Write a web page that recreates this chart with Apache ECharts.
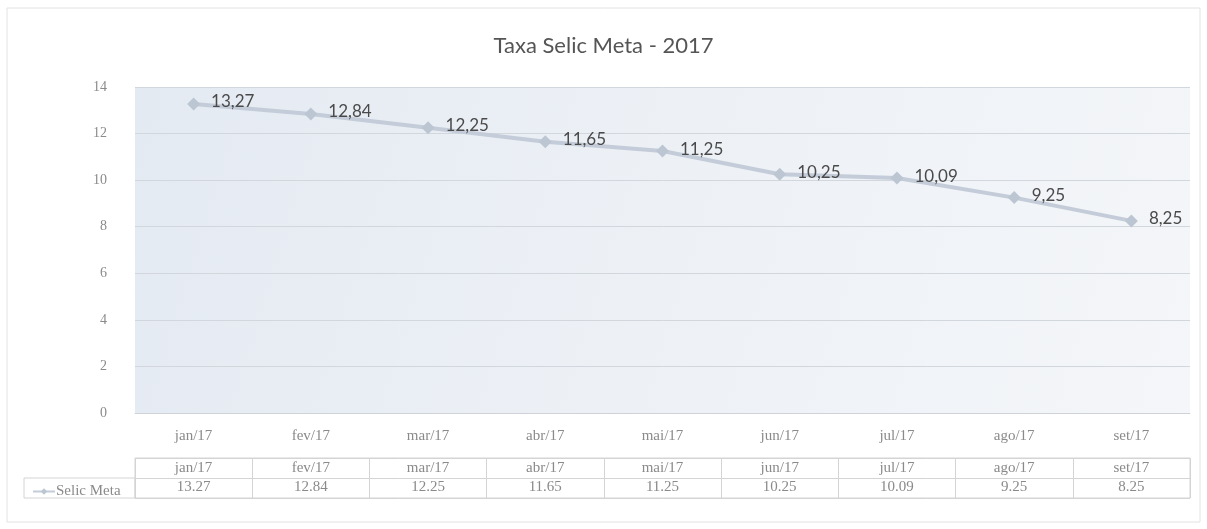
<!DOCTYPE html>
<html>
<head>
<meta charset="UTF-8" />
<title>Taxa Selic Meta - 2017</title>
<script src="https://cdn.jsdelivr.net/npm/echarts@6/dist/echarts.min.js"></script>
<style>
  html, body { margin: 0; padding: 0; background: #fff; }
  #main { width: 1207px; height: 529px; }
</style>
</head>
<body>
<div id="main"></div>
<script>
var months = ['jan/17', 'fev/17', 'mar/17', 'abr/17', 'mai/17', 'jun/17', 'jul/17', 'ago/17', 'set/17'];
var selicMeta = [13.27, 12.84, 12.25, 11.65, 11.25, 10.25, 10.09, 9.25, 8.25];
var yTicks = { min: 0, max: 14, interval: 2 };

var chart = echarts.init(document.getElementById('main'));

var serif = 'Liberation Serif';
var sans = 'Lato';
var gray = '#8a8a8a';
var lineCol = '#c3ccd8';
var borderCol = '#d4d4d4';

// table values use a dot, point labels use a comma (as in the original)
var tableVals = selicMeta.map(function (v) { return v.toFixed(2); });

var option = {
  backgroundColor: '#fff',
  title: {
    text: 'Taxa Selic Meta - 2017',
    left: 'center',
    top: 30,
    textStyle: { fontFamily: sans, fontSize: 22, fontWeight: 'normal', color: '#555' }
  },
  legend: {
    left: 27,
    top: 479,
    itemWidth: 22,
    itemHeight: 8,
    itemGap: 4,
    textStyle: { fontFamily: serif, fontSize: 15, color: gray, padding: [0, 0, 0, -4] },
    data: ['Selic Meta']
  },
  graphic: [
    {
      type: 'rect', z: -1, silent: true,
      shape: { x: 7, y: 8, width: 1193, height: 514 },
      style: { fill: 'none', stroke: '#e2e2e2', lineWidth: 1 }
    },
    {
      type: 'rect', silent: true,
      shape: { x: 24, y: 478, width: 111, height: 20 },
      style: { fill: 'none', stroke: borderCol, lineWidth: 1 }
    }
  ],
  grid: [
    {
      left: 135, right: 17, top: 87, height: 326,
      show: true, borderWidth: 0,
      backgroundColor: new echarts.graphic.LinearGradient(0, 0, 1, 1, [
        { offset: 0, color: '#e4eaf2' },
        { offset: 0.5, color: '#edf1f6' },
        { offset: 1, color: '#f4f6f9' }
      ])
    },
    {
      left: 135, right: 17, top: 458, height: 40,
      show: true, borderColor: borderCol, borderWidth: 1
    }
  ],
  xAxis: [
    {
      gridIndex: 0, type: 'category', data: months,
      axisLine: { show: true, lineStyle: { color: '#cfd3d8' } },
      axisTick: { show: false },
      axisLabel: { margin: 16, fontFamily: serif, fontSize: 15, color: gray }
    },
    {
      gridIndex: 1, type: 'category', data: months, position: 'top',
      axisLine: { show: false },
      axisTick: { show: false },
      splitLine: { show: true, lineStyle: { color: borderCol } },
      axisLabel: { inside: true, margin: 3, fontFamily: serif, fontSize: 15, color: gray }
    },
    {
      gridIndex: 1, type: 'category', data: tableVals, position: 'bottom',
      axisLine: { show: false },
      axisTick: { show: false },
      axisLabel: { inside: true, margin: 3, fontFamily: serif, fontSize: 15, color: gray }
    }
  ],
  yAxis: [
    {
      gridIndex: 0, type: 'value',
      min: yTicks.min, max: yTicks.max, interval: yTicks.interval,
      axisLine: { show: false },
      axisTick: { show: false },
      splitLine: { lineStyle: { color: '#d2d7de' } },
      axisLabel: { margin: 28, fontFamily: serif, fontSize: 14, color: gray }
    },
    {
      gridIndex: 1, type: 'value', min: 0, max: 2, interval: 1,
      axisLine: { show: false },
      axisTick: { show: false },
      axisLabel: { show: false },
      splitLine: { show: true, lineStyle: { color: borderCol } }
    }
  ],
  series: [
    {
      name: 'Selic Meta',
      type: 'line',
      xAxisIndex: 0, yAxisIndex: 0,
      data: selicMeta,
      symbol: 'diamond',
      symbolSize: 13,
      lineStyle: { color: lineCol, width: 4 },
      itemStyle: { color: '#bcc6d3' },
      label: {
        show: true,
        position: 'right',
        distance: 11,
        offset: [0, -2],
        fontFamily: sans,
        fontSize: 17,
        color: '#4a4a4a',
        formatter: function (p) { return p.value.toFixed(2).replace('.', ','); }
      }
    }
  ]
};

chart.setOption(option);
</script>
</body>
</html>
